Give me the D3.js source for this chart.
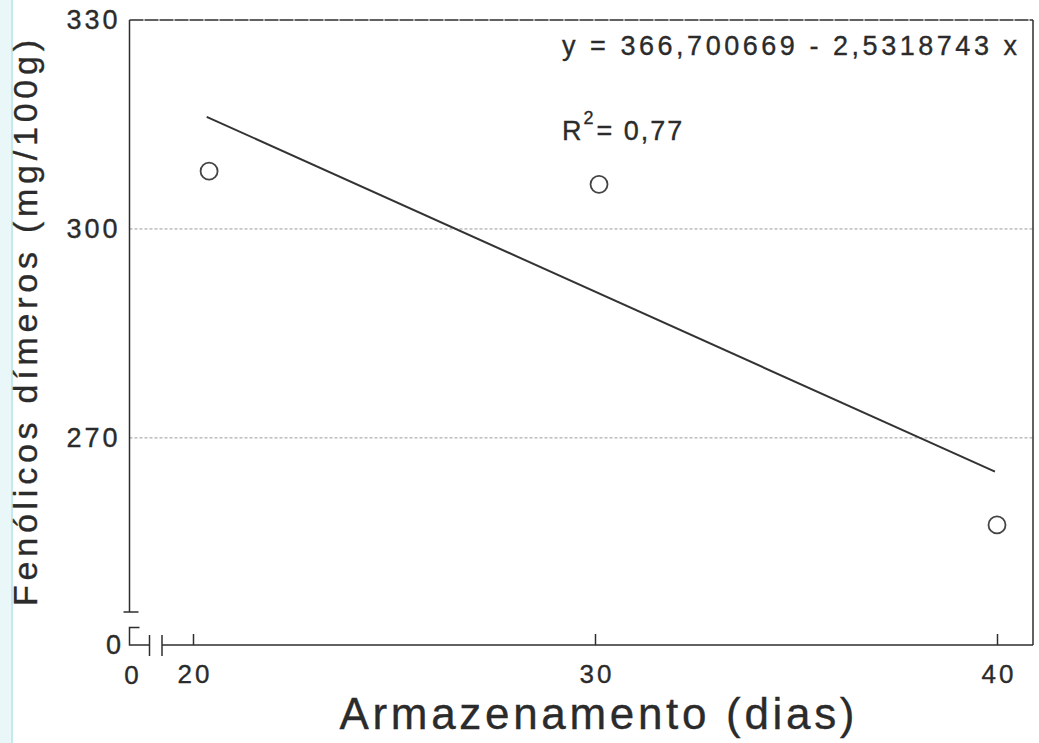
<!DOCTYPE html>
<html>
<head>
<meta charset="utf-8">
<script src="https://cdn.jsdelivr.net/npm/d3@7"></script>
<style>
  body { margin: 0; background: #fff; }
  svg text { font-family: "Liberation Sans", Arial, sans-serif; fill: #2b2b2b; stroke: #2b2b2b; stroke-width: 0.35px; }
</style>
</head>
<body>
<div id="chart"></div>
<script>
// data
var days = [20.4, 30.1, 40];
var phenolics = [308.3, 306.4, 257.5];
var fitDays = [20.34, 39.95];
var fitValues = [316.1, 265.15];
var xTicks = [20, 30, 40];
var yTicks = [330, 300, 270];
var gridTicks = [300, 270];
var equation = "y = 366,700669 - 2,5318743 x";
var r2Label = "0,77";

var width = 1039, height = 743;
var ink = "#2e2e2e";

var plot = { left: 129.5, right: 1033, top: 20, bottom: 645, yBreak: 612 };

var svg = d3.select("#chart").append("svg")
    .attr("width", width)
    .attr("height", height);

svg.append("rect").attr("width", width).attr("height", height).attr("fill", "#fff");

// scan edge strip on the left
svg.append("rect").attr("x", 0).attr("y", 0).attr("width", 12).attr("height", height).attr("fill", "#e9f7f9");
svg.append("line").attr("x1", 12).attr("x2", 12).attr("y1", 0).attr("y2", height)
    .attr("stroke", "#c4e9ef").attr("stroke-width", 2);

var x = d3.scaleLinear().domain([20, 40]).range([193, 997]);
var y = d3.scaleLinear().domain([245, 330]).range([plot.yBreak, plot.top]);

// grid lines
svg.selectAll(".grid").data(gridTicks).enter().append("line")
    .attr("class", "grid")
    .attr("x1", plot.left).attr("x2", plot.right)
    .attr("y1", function (d) { return y(d); })
    .attr("y2", function (d) { return y(d); })
    .attr("stroke", "#9a9a9a")
    .attr("stroke-width", 1)
    .attr("stroke-dasharray", "3,2");

// frame: top and right
svg.append("line").attr("x1", plot.left).attr("x2", plot.right).attr("y1", plot.top).attr("y2", plot.top)
    .attr("stroke", ink).attr("stroke-width", 1.5).attr("stroke-dasharray", "14,1");
svg.append("line").attr("x1", plot.right).attr("x2", plot.right).attr("y1", plot.top).attr("y2", plot.bottom)
    .attr("stroke", ink).attr("stroke-width", 1.5);

// y axis (upper piece with cap)
var yAxis = d3.axisLeft(y).tickValues(yTicks).tickSize(0).tickPadding(9);
var gy = svg.append("g").attr("transform", "translate(" + plot.left + ",0)").call(yAxis);
gy.select(".domain").remove();
gy.selectAll("text").style("font-size", "27px").style("letter-spacing", "3px").attr("fill", "#2b2b2b");
svg.append("line").attr("x1", plot.left).attr("x2", plot.left).attr("y1", plot.top).attr("y2", plot.yBreak)
    .attr("stroke", ink).attr("stroke-width", 1.5);
svg.append("line").attr("x1", plot.left - 6).attr("x2", plot.left + 9).attr("y1", plot.yBreak).attr("y2", plot.yBreak)
    .attr("stroke", ink).attr("stroke-width", 1.5);

// y axis (lower piece at zero)
svg.append("path")
    .attr("d", "M" + (plot.left + 10) + "," + 627.5 + "H" + plot.left + "V" + plot.bottom + "H" + 149.5)
    .attr("fill", "none").attr("stroke", ink).attr("stroke-width", 1.5);
svg.append("text").attr("x", 121).attr("y", plot.bottom + 9).attr("text-anchor", "end")
    .style("font-size", "27px").text("0");

// x axis break marks
[149.5, 162].forEach(function (bx) {
    svg.append("line").attr("x1", bx).attr("x2", bx).attr("y1", plot.bottom - 10).attr("y2", plot.bottom + 11)
        .attr("stroke", ink).attr("stroke-width", 1.5);
});
svg.append("line").attr("x1", 162).attr("x2", plot.right).attr("y1", plot.bottom).attr("y2", plot.bottom)
    .attr("stroke", ink).attr("stroke-width", 1.5);

// x axis ticks (inward) and labels
var xAxis = d3.axisBottom(x).tickValues(xTicks).tickSize(-11).tickPadding(20);
var gx = svg.append("g").attr("transform", "translate(0," + plot.bottom + ")").call(xAxis);
gx.select(".domain").remove();
gx.selectAll(".tick line").attr("stroke", ink).attr("stroke-width", 1.5);
gx.selectAll("text").style("font-size", "26px").style("letter-spacing", "3px").attr("fill", "#2b2b2b")
    .attr("dx", "1.5px");
svg.append("text").attr("x", plot.left + 2).attr("y", 684).attr("text-anchor", "middle")
    .style("font-size", "26px").text("0");

// regression line
svg.append("line")
    .attr("x1", x(fitDays[0])).attr("y1", y(fitValues[0]))
    .attr("x2", x(fitDays[1])).attr("y2", y(fitValues[1]))
    .attr("stroke", "#333").attr("stroke-width", 2);

// observed points
svg.selectAll(".pt").data(days).enter().append("circle")
    .attr("class", "pt")
    .attr("cx", function (d) { return x(d); })
    .attr("cy", function (d, i) { return y(phenolics[i]); })
    .attr("r", 8.5)
    .attr("fill", "#fff")
    .attr("stroke", "#444")
    .attr("stroke-width", 1.8);

// equation and R2
svg.append("text").attr("x", 562).attr("y", 55)
    .attr("textLength", 455).attr("lengthAdjust", "spacing")
    .style("font-size", "27px").text(equation);
var r2 = svg.append("text").attr("x", 562).attr("y", 140).style("font-size", "27px").style("letter-spacing", "2px");
r2.append("tspan").text("R");
r2.append("tspan").attr("dy", -16).style("font-size", "18px").text("2");
r2.append("tspan").attr("dy", 16).attr("dx", 1).text("= " + r2Label);

// axis titles
svg.append("text").attr("x", 597).attr("y", 729).attr("text-anchor", "middle")
    .attr("textLength", 515).attr("lengthAdjust", "spacing")
    .style("font-size", "44px").text("Armazenamento (dias)");
svg.append("text")
    .attr("transform", "translate(37,323) rotate(-90)")
    .attr("text-anchor", "middle")
    .attr("textLength", 566).attr("lengthAdjust", "spacing")
    .style("font-size", "34px").text("Fenólicos dímeros (mg/100g)");
</script>
</body>
</html>
